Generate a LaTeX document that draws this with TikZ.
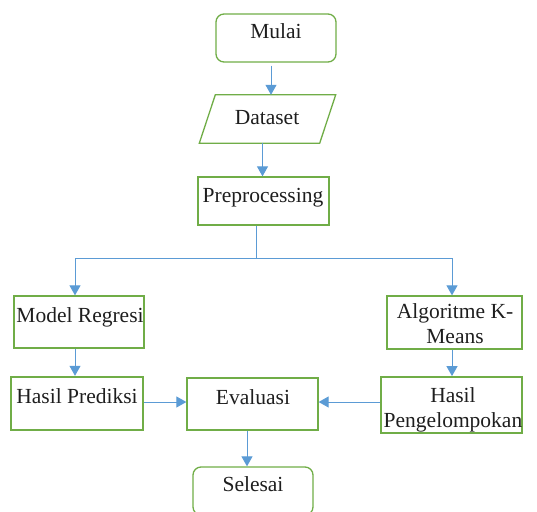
\documentclass[tikz,border=0pt]{standalone}
\usepackage{fontspec}
\setmainfont{Liberation Serif}
\usetikzlibrary{arrows.meta}
\definecolor{gr}{HTML}{70AD47}
\definecolor{bl}{HTML}{5B9BD5}
\definecolor{ink}{HTML}{1E1E1E}
\begin{document}
\begin{tikzpicture}[x=1pt,y=-1pt,
  box/.style={draw=gr, line width=1.3pt, inner sep=0pt, rectangle},
  term/.style={box, rounded corners=8pt},
  heavybox/.style={box, line width=2.4pt},
  midbox/.style={box, line width=1.8pt},
  txt/.style={font=\fontsize{21.5}{25}\selectfont, inner sep=0pt, anchor=base, align=center, text=ink},
  arr/.style={draw=bl, line width=1pt, -{Triangle[width=11pt,length=10pt]}},
  ln/.style={draw=bl, line width=1pt},
  io/.style={draw=gr, line width=1.3pt, line join=miter}]
\useasboundingbox (0,0) rectangle (537,511);
\clip (0,0) rectangle (537,511);

% boxes
\node[term, minimum width=120pt, minimum height=48pt] (mulai) at (276,38) {};
\node[inner sep=0pt, minimum width=120pt, minimum height=48pt] (dataset) at (267.5,119) {};
\draw[io] ([xshift=8pt]dataset.north west) -- ([xshift=8pt]dataset.north east)
  -- ([xshift=-8pt]dataset.south east) -- ([xshift=-8pt]dataset.south west) -- cycle;
\node[box, minimum width=131pt, minimum height=48pt] (pre) at (263.5,201) {};
\node[box, minimum width=130pt, minimum height=52pt] (mr) at (79,322) {};
\node[box, minimum width=135pt, minimum height=53pt] (alg) at (454.5,322.5) {};
\node[heavybox, minimum width=132pt, minimum height=53pt] (hp) at (77,403.5) {};
\node[box, minimum width=131pt, minimum height=52pt] (eval) at (252.5,404) {};
\node[midbox, minimum width=141pt, minimum height=56pt] (hpeng) at (451.5,405) {};
\node[term, minimum width=120pt, minimum height=48pt] (selesai) at (253,491) {};

% texts
\node[txt] (t-mulai) at (276,38) {Mulai};
\node[txt] (t-dataset) at (267,124) {Dataset};
\node[txt] (t-pre) at (263,202) {Preprocessing};
\node[txt] (t-mr) at (80,322) {Model Regresi};
\node[txt] (t-alg) at (455,343) {Algoritme K-\\Means};
\node[txt] (t-hp) at (77,403) {Hasil Prediksi};
\node[txt] (t-eval) at (253,404) {Evaluasi};
\node[txt] (t-hpeng) at (453,427) {Hasil\\Pengelompokan};
\node[txt] (t-selesai) at (253,491) {Selesai};

% connectors
\draw[arr, shorten <=3pt] ([xshift=-5pt]mulai.south) -- ([xshift=-5pt]mulai.south |- dataset.north);
\draw[arr] ([xshift=-5pt]dataset.south) -- ([xshift=-5pt]dataset.south |- pre.north);
\coordinate (split) at (256,258);
\coordinate (sl) at (75,258);
\coordinate (sr) at (452,258);
\draw[ln] (split |- pre.south) -- (split);
\draw[arr] (split) -- (sl) -- (sl |- mr.north);
\draw[arr] (split) -- (sr) -- (sr |- alg.north);
\draw[arr] ([xshift=-4pt]mr.south) -- ([xshift=-4pt]mr.south |- hp.north);
\draw[arr] ([xshift=-2.5pt]alg.south) -- ([xshift=-2.5pt]alg.south |- hpeng.north);
\draw[arr] ([yshift=1.5pt]hp.east) -- ([yshift=1.5pt]hp.east -| eval.west);
\draw[arr] ([yshift=3pt]hpeng.west) -- ([yshift=3pt]hpeng.west -| eval.east);
\draw[arr] ([xshift=-5.5pt]eval.south) -- ([xshift=-5.5pt]eval.south |- selesai.north);
\end{tikzpicture}
\end{document}
